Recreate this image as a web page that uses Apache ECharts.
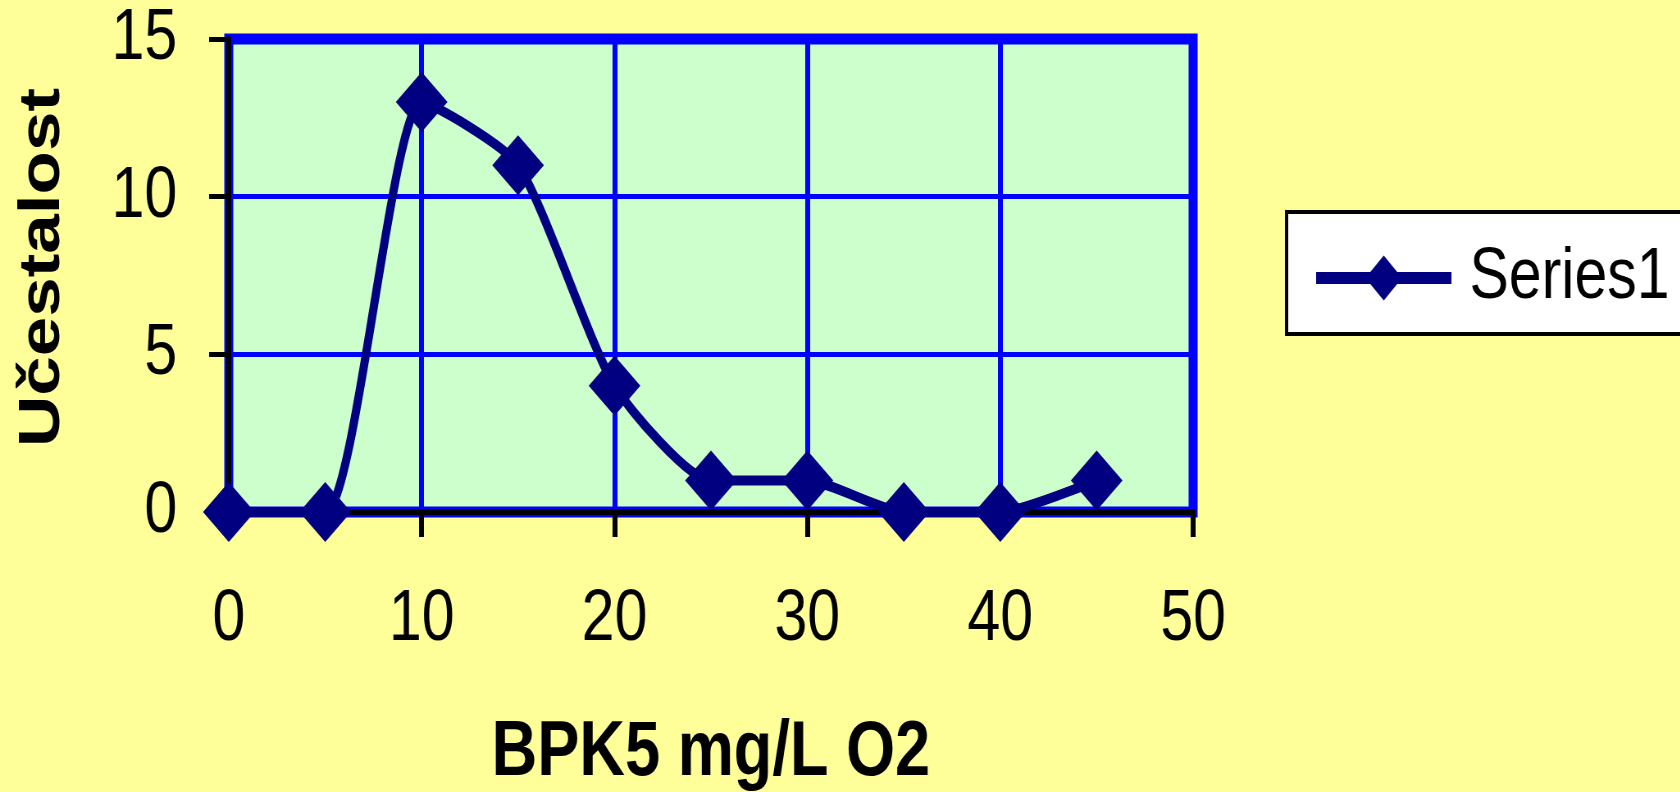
<!DOCTYPE html>
<html>
<head>
<meta charset="utf-8">
<script src="https://cdn.jsdelivr.net/npm/echarts@6/dist/echarts.min.js"></script>
<style>
html,body{margin:0;padding:0;background:#FFFF99;overflow:hidden;width:1680px;height:792px;}
#chart{width:2049px;height:792px;transform:scaleX(0.82);transform-origin:0 0;}
</style>
</head>
<body>
<div id="chart"></div>
<script>
const xValues = [0, 5, 10, 15, 20, 25, 30, 35, 40, 45];
const yValues = [0, 0, 13, 11, 4, 1, 1, 0, 0, 1];
const seriesName = 'Series1';
const xAxisTitle = 'BPK5 mg/L O2';
const yAxisTitle = 'Učestalost';
const xRange = [0, 50, 10];
const yRange = [0, 15, 5];

const FONT = "'Liberation Sans',Arial,Helvetica,sans-serif";
const chart = echarts.init(document.getElementById('chart'));
const points = xValues.map((x, i) => [x, yValues[i]]);

chart.setOption({
  backgroundColor: '#FFFF99',
  animation: false,
  grid: {
    left: 279, right: 594, top: 39, bottom: 280,
    outerBoundsMode: 'none', containLabel: false,
    show: true, backgroundColor: '#CCFFCC', borderColor: '#0000FF', borderWidth: 11
  },
  legend: {
    left: 1569, top: 212,
    backgroundColor: '#FFFFFF', borderColor: '#000000', borderWidth: 4, borderRadius: 0,
    padding: [30, 80, 20, 30],
    itemWidth: 165, itemHeight: 56,
    lineStyle: { width: 12, color: '#000080' },
    itemStyle: { color: '#000080' },
    textStyle: { fontFamily: FONT, fontSize: 72, color: '#000', padding: [0, 0, 0, 17] },
    data: [{ name: seriesName }]
  },
  xAxis: {
    type: 'value', min: xRange[0], max: xRange[1], interval: xRange[2],
    name: xAxisTitle, nameLocation: 'middle', nameGap: 203,
    nameTextStyle: { fontFamily: FONT, fontWeight: 'bold', fontSize: 77, color: '#000' },
    axisLine: { show: true, onZero: false, lineStyle: { color: '#000', width: 6 } },
    axisTick: { show: true, length: 25, lineStyle: { color: '#000', width: 6 } },
    axisLabel: { fontFamily: FONT, fontSize: 72, color: '#000', margin: 72 },
    splitLine: { show: true, lineStyle: { color: '#0000FF', width: 6 } }
  },
  yAxis: {
    type: 'value', min: yRange[0], max: yRange[1], interval: yRange[2],
    name: yAxisTitle, nameLocation: 'middle', nameGap: 191,
    nameTextStyle: { fontFamily: FONT, fontWeight: 'bold', fontSize: 71, color: '#000', padding: [0, 0, 0, 16] },
    axisLine: { show: true, onZero: false, lineStyle: { color: '#000', width: 6 } },
    axisTick: { show: true, length: 24, lineStyle: { color: '#000', width: 5 } },
    axisLabel: { fontFamily: FONT, fontSize: 72, color: '#000', margin: 63 },
    splitLine: { show: true, lineStyle: { color: '#0000FF', width: 5 } }
  },
  series: [{
    name: seriesName,
    type: 'line',
    data: points,
    smooth: 0.2,
    clip: false,
    symbol: 'diamond',
    symbolSize: [63, 60],
    lineStyle: { color: '#000080', width: 10 },
    itemStyle: { color: '#000080' },
    z: 5
  }]
});
</script>
</body>
</html>
